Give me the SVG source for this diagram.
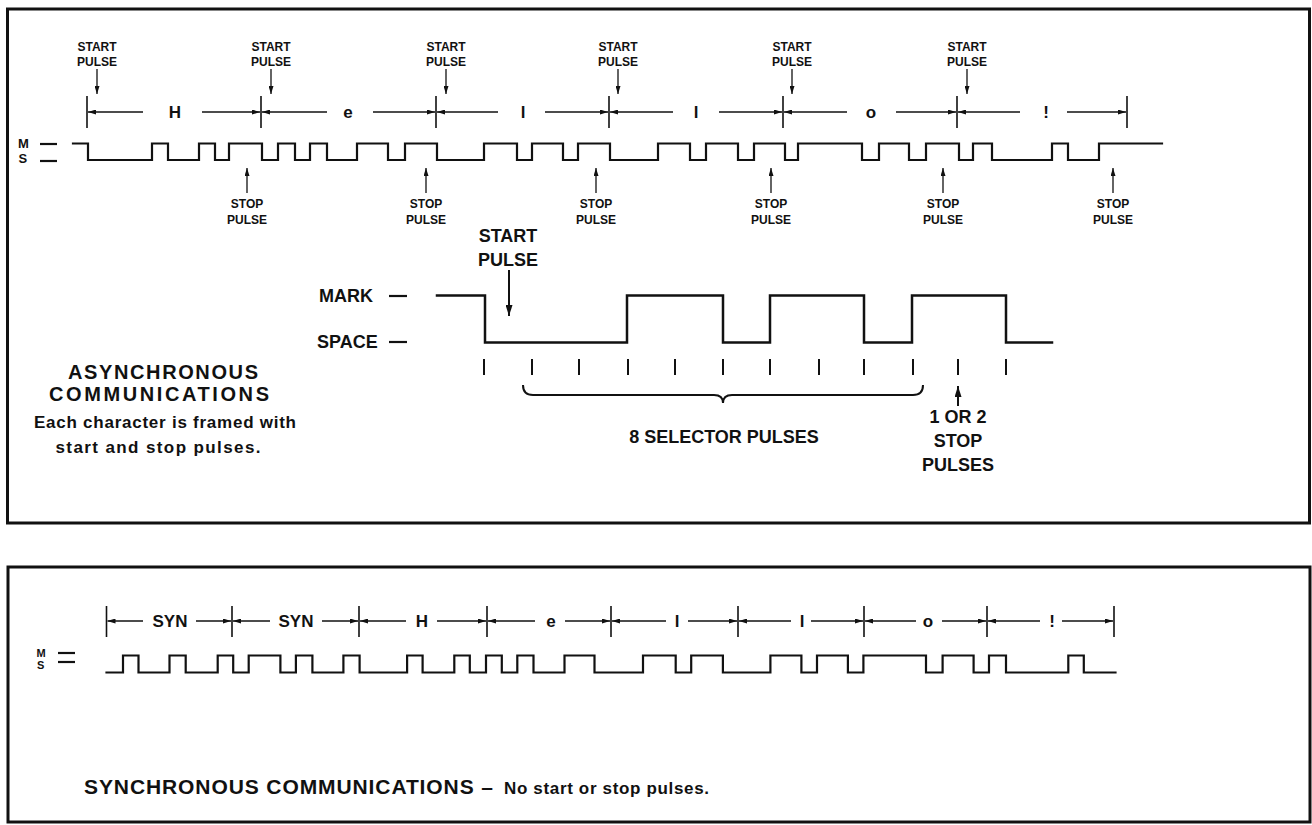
<svg xmlns="http://www.w3.org/2000/svg" width="1312" height="825" viewBox="0 0 1312 825">
<defs>
<style>
.t{font-family:"Liberation Sans",Arial,Helvetica,sans-serif;font-weight:bold;fill:#111}
.s12{font-size:12px}.s17{font-size:17px}.s18{font-size:18px}.s20{font-size:20px}.s21{font-size:21px}
.m{text-anchor:middle}
.wave{fill:none;stroke:#111;stroke-width:2.2;stroke-linejoin:miter;stroke-linecap:square}
.bar{stroke:#111;stroke-width:1.6}
.tick{stroke:#111;stroke-width:2}
.dash{stroke:#111;stroke-width:2.2}
.arr{stroke:#111;stroke-width:1.3;fill:none;marker-end:url(#ah)}
.arrL{stroke:#111;stroke-width:2;fill:none;marker-end:url(#ahL)}
.frame{fill:none;stroke:#111;stroke-width:3}
</style>
<marker id="ah" viewBox="0 0 8 5" markerWidth="8" markerHeight="5" refX="8" refY="2.5" orient="auto" markerUnits="userSpaceOnUse"><path d="M0,0 L8,2.5 L0,5 z" fill="#111"/></marker>
<marker id="ahL" viewBox="0 0 11 7" markerWidth="11" markerHeight="7" refX="11" refY="3.5" orient="auto" markerUnits="userSpaceOnUse"><path d="M0,0 L11,3.5 L0,7 z" fill="#111"/></marker>
</defs>
<rect width="1312" height="825" fill="#fff"/>

<g id="frames">
<rect class="frame" x="7.5" y="9" width="1302" height="514"/>
<rect class="frame" x="8" y="567" width="1302" height="255"/>
</g>

<g id="async-top">
<g id="ms-top">
<text class="t" style="font-size:13px" x="18" y="148">M</text>
<text class="t" style="font-size:13px" x="18.5" y="162.5">S</text>
<line class="dash" x1="40" y1="144" x2="57" y2="144"/>
<line class="dash" x1="40" y1="161" x2="57" y2="161"/>
</g>
<path id="wave-top" class="wave" d="M73,143.5 H88 V160 H152 V143.5 H168 V160 H199 V143.5 H215 V160 H229 V143.5 H262 V160 H278 V143.5 H295 V160 H310 V143.5 H327 V160 H357 V143.5 H388 V160 H405 V143.5 H437 V160 H484 V143.5 H517 V160 H532 V143.5 H563 V160 H578 V143.5 H610 V160 H658 V143.5 H690 V160 H706 V143.5 H738 V160 H754 V143.5 H785 V160 H798 V143.5 H862 V160 H879 V143.5 H909 V160 H926 V143.5 H959 V160 H973 V143.5 H992 V160 H1052 V143.5 H1068 V160 H1099 V143.5 H1162"/>
<g id="bars-top">
<line class="bar" x1="87" y1="96" x2="87" y2="128"/>
<line class="bar" x1="261" y1="96" x2="261" y2="128"/>
<line class="bar" x1="436" y1="96" x2="436" y2="128"/>
<line class="bar" x1="609" y1="96" x2="609" y2="128"/>
<line class="bar" x1="783" y1="96" x2="783" y2="128"/>
<line class="bar" x1="957" y1="96" x2="957" y2="128"/>
<line class="bar" x1="1127" y1="96" x2="1127" y2="128"/>
</g>
<g id="span-arrows-top">
<line class="arr" x1="143" y1="112" x2="88" y2="112"/><line class="arr" x1="202" y1="112" x2="260" y2="112"/>
<line class="arr" x1="327" y1="112" x2="262" y2="112"/><line class="arr" x1="373" y1="112" x2="435" y2="112"/>
<line class="arr" x1="498" y1="112" x2="437" y2="112"/><line class="arr" x1="545" y1="112" x2="608" y2="112"/>
<line class="arr" x1="673" y1="112" x2="610" y2="112"/><line class="arr" x1="719" y1="112" x2="782" y2="112"/>
<line class="arr" x1="847" y1="112" x2="784" y2="112"/><line class="arr" x1="896" y1="112" x2="956" y2="112"/>
<line class="arr" x1="1020" y1="112" x2="958" y2="112"/><line class="arr" x1="1067" y1="112" x2="1126" y2="112"/>
</g>
<g id="chars-top" class="t s17 m">
<text x="175" y="118">H</text>
<text x="348" y="118">e</text>
<text x="523" y="118">l</text>
<text x="696" y="118">l</text>
<text x="871" y="118">o</text>
<text x="1046" y="118">!</text>
</g>
<g id="start-labels" class="t s12 m">
<text x="97" y="51">START</text><text x="97" y="66">PULSE</text>
<text x="271" y="51">START</text><text x="271" y="66">PULSE</text>
<text x="446" y="51">START</text><text x="446" y="66">PULSE</text>
<text x="618" y="51">START</text><text x="618" y="66">PULSE</text>
<text x="792" y="51">START</text><text x="792" y="66">PULSE</text>
<text x="967" y="51">START</text><text x="967" y="66">PULSE</text>
</g>
<g id="start-arrows">
<line class="arr" x1="97" y1="69" x2="97" y2="94"/>
<line class="arr" x1="271" y1="69" x2="271" y2="94"/>
<line class="arr" x1="446" y1="69" x2="446" y2="94"/>
<line class="arr" x1="618" y1="69" x2="618" y2="94"/>
<line class="arr" x1="792" y1="69" x2="792" y2="94"/>
<line class="arr" x1="967" y1="69" x2="967" y2="94"/>
</g>
<g id="stop-arrows">
<line class="arr" x1="247" y1="193" x2="247" y2="168"/>
<line class="arr" x1="426" y1="193" x2="426" y2="168"/>
<line class="arr" x1="596" y1="193" x2="596" y2="168"/>
<line class="arr" x1="771" y1="193" x2="771" y2="168"/>
<line class="arr" x1="943" y1="193" x2="943" y2="168"/>
<line class="arr" x1="1113" y1="193" x2="1113" y2="168"/>
</g>
<g id="stop-labels" class="t s12 m">
<text x="247" y="208">STOP</text><text x="247" y="224">PULSE</text>
<text x="426" y="208">STOP</text><text x="426" y="224">PULSE</text>
<text x="596" y="208">STOP</text><text x="596" y="224">PULSE</text>
<text x="771" y="208">STOP</text><text x="771" y="224">PULSE</text>
<text x="943" y="208">STOP</text><text x="943" y="224">PULSE</text>
<text x="1113" y="208">STOP</text><text x="1113" y="224">PULSE</text>
</g>
</g>

<g id="async-detail">
<text class="t s18" x="319" y="302">MARK</text>
<text class="t s18" x="317" y="348">SPACE</text>
<line class="dash" x1="389" y1="296" x2="407" y2="296"/>
<line class="dash" x1="389" y1="342" x2="407" y2="342"/>
<path class="wave" style="stroke-width:2.5" d="M437,295.5 H485 V342.5 H627 V295.5 H723 V342.5 H770 V295.5 H864 V342.5 H912 V295.5 H1006 V342.5 H1052"/>
<g id="ticks">
<line class="tick" x1="484" y1="359" x2="484" y2="375"/>
<line class="tick" x1="532" y1="359" x2="532" y2="375"/>
<line class="tick" x1="579" y1="359" x2="579" y2="375"/>
<line class="tick" x1="628" y1="359" x2="628" y2="375"/>
<line class="tick" x1="675" y1="359" x2="675" y2="375"/>
<line class="tick" x1="723" y1="359" x2="723" y2="375"/>
<line class="tick" x1="770" y1="359" x2="770" y2="375"/>
<line class="tick" x1="819" y1="359" x2="819" y2="375"/>
<line class="tick" x1="864" y1="359" x2="864" y2="375"/>
<line class="tick" x1="913" y1="359" x2="913" y2="375"/>
<line class="tick" x1="958" y1="359" x2="958" y2="375"/>
<line class="tick" x1="1006" y1="359" x2="1006" y2="375"/>
</g>
<path id="brace" d="M523,385 Q523,395 533,395 L714,395 Q723,395 723,403 Q723,395 732,395 L913,395 Q923,395 923,385" fill="none" stroke="#111" stroke-width="2"/>
<text class="t s18 m" x="508" y="242">START</text>
<text class="t s18 m" x="508" y="266">PULSE</text>
<line class="arrL" x1="509" y1="270" x2="509" y2="316"/>
<text class="t s18 m" x="724" y="443">8 SELECTOR PULSES</text>
<line class="arrL" x1="958" y1="406" x2="958" y2="386"/>
<text class="t s18 m" x="958" y="423">1 OR 2</text>
<text class="t s18 m" x="958" y="447">STOP</text>
<text class="t s18 m" x="958" y="471">PULSES</text>
</g>

<g id="async-caption">
<text class="t s20 m" x="163" y="379" textLength="190" lengthAdjust="spacing">ASYNCHRONOUS</text>
<text class="t s20 m" x="159" y="401" textLength="220" lengthAdjust="spacing">COMMUNICATIONS</text>
<text class="t s17 m" x="165" y="428" textLength="262" lengthAdjust="spacing">Each character is framed with</text>
<text class="t s17 m" x="158" y="453" textLength="205" lengthAdjust="spacing">start and stop pulses.</text>
</g>

<g id="sync">
<g id="ms-bottom">
<text class="t" style="font-size:11px" x="36.5" y="656.5">M</text>
<text class="t" style="font-size:11px" x="37" y="669">S</text>
<line class="dash" x1="58" y1="653" x2="75" y2="653"/>
<line class="dash" x1="58" y1="662" x2="75" y2="662"/>
</g>
<path id="wave-bottom" class="wave" d="M106.5,672.5 H123 V655.5 H138.5 V672.5 H169.5 V655.5 H185.7 V672.5 H217.7 V655.5 H233.2 V672.5 H248.7 V655.5 H280.4 V672.5 H295.9 V655.5 H312.4 V672.5 H343.4 V655.5 H359.6 V672.5 H407.1 V655.5 H422.6 V672.5 H454.3 V655.5 H469.8 V672.5 H486 V655.5 H501.8 V672.5 H517.3 V655.5 H533.5 V672.5 H564.5 V655.5 H594.5 V672.5 H643 V655.5 H675.7 V672.5 H691.2 V655.5 H722.9 V672.5 H770.4 V655.5 H801.4 V672.5 H817 V655.5 H847.9 V672.5 H863.4 V655.5 H926 V672.5 H942.6 V655.5 H973.6 V672.5 H989 V655.5 H1006 V672.5 H1068.3 V655.5 H1083.8 V672.5 H1115.5"/>
<g id="bars-bottom">
<line class="bar" x1="106.5" y1="606" x2="106.5" y2="637"/>
<line class="bar" x1="232" y1="606" x2="232" y2="637"/>
<line class="bar" x1="359" y1="606" x2="359" y2="637"/>
<line class="bar" x1="487" y1="606" x2="487" y2="637"/>
<line class="bar" x1="611" y1="606" x2="611" y2="637"/>
<line class="bar" x1="738" y1="606" x2="738" y2="637"/>
<line class="bar" x1="864" y1="606" x2="864" y2="637"/>
<line class="bar" x1="987" y1="606" x2="987" y2="637"/>
<line class="bar" x1="1114" y1="606" x2="1114" y2="637"/>
</g>
<g id="span-arrows-bottom">
<line class="arr" x1="143" y1="621" x2="107.5" y2="621"/><line class="arr" x1="196" y1="621" x2="231" y2="621"/>
<line class="arr" x1="270" y1="621" x2="233" y2="621"/><line class="arr" x1="322" y1="621" x2="358" y2="621"/>
<line class="arr" x1="406" y1="621" x2="360" y2="621"/><line class="arr" x1="437" y1="621" x2="486" y2="621"/>
<line class="arr" x1="535" y1="621" x2="488" y2="621"/><line class="arr" x1="565" y1="621" x2="610" y2="621"/>
<line class="arr" x1="666" y1="621" x2="612" y2="621"/><line class="arr" x1="688" y1="621" x2="737" y2="621"/>
<line class="arr" x1="791" y1="621" x2="739" y2="621"/><line class="arr" x1="811" y1="621" x2="863" y2="621"/>
<line class="arr" x1="916" y1="621" x2="865" y2="621"/><line class="arr" x1="942" y1="621" x2="986" y2="621"/>
<line class="arr" x1="1040" y1="621" x2="988" y2="621"/><line class="arr" x1="1062" y1="621" x2="1113" y2="621"/>
</g>
<g id="chars-bottom" class="t s17 m">
<text x="170" y="627">SYN</text>
<text x="296" y="627">SYN</text>
<text x="422" y="627">H</text>
<text x="551" y="627">e</text>
<text x="677" y="627">l</text>
<text x="802" y="627">l</text>
<text x="928" y="627">o</text>
<text x="1052" y="627">!</text>
</g>
<text class="t s21" x="84" y="794" textLength="409" lengthAdjust="spacing">SYNCHRONOUS COMMUNICATIONS –</text>
<text class="t s17" x="504" y="794" textLength="205" lengthAdjust="spacing">No start or stop pulses.</text>
</g>
</svg>
